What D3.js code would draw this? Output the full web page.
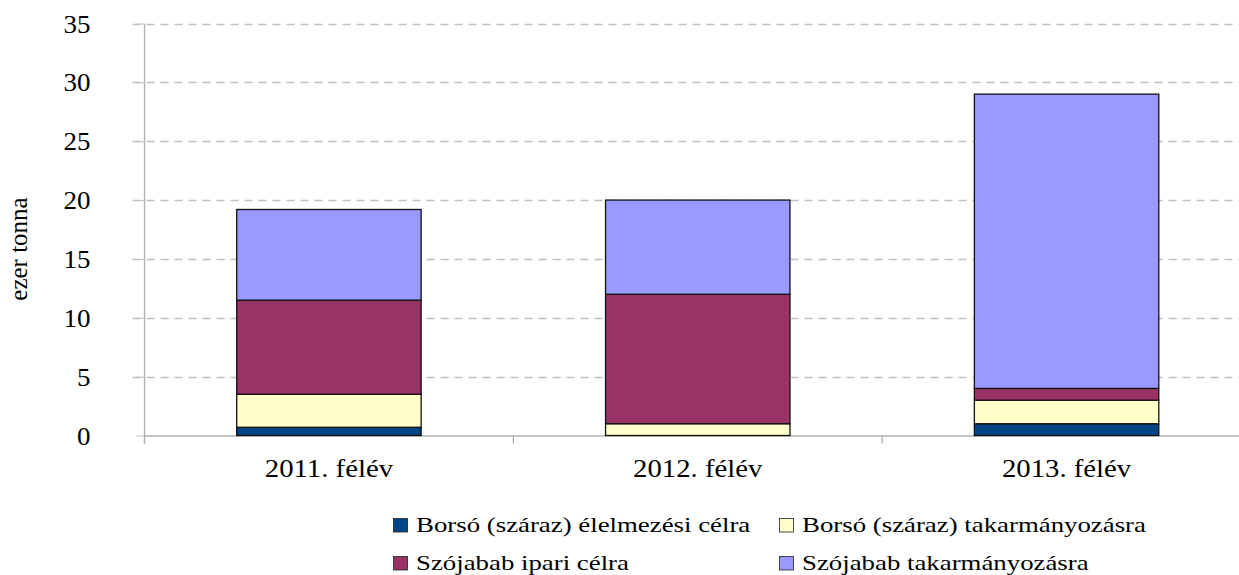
<!DOCTYPE html>
<html>
<head>
<meta charset="utf-8">
<script src="https://cdn.jsdelivr.net/npm/d3@7"></script>
<style>
body { margin: 0; background: #fff; }
</style>
</head>
<body>
<svg id="chart" width="1239" height="575"></svg>
<script>
/////// Data ///////

var categories = ["2011. félév", "2012. félév", "2013. félév"];
var seriesNames = ["Borsó (száraz) élelmezési célra", "Borsó (száraz) takarmányozásra",
                   "Szójabab ipari célra", "Szójabab takarmányozásra"];
var borsoElelmezes = [0.7, 0.0, 1.0];
var borsoTakarmany = [2.8, 1.0, 2.0];
var szojaIpari = [8.0, 11.0, 1.0];
var szojaTakarmany = [7.7, 8.0, 25.0];
var yTicks = [0, 5, 10, 15, 20, 25, 30, 35];
var colors = ["#004586", "#ffffcc", "#993366", "#9999ff"];

/////// Layout ///////

var serif = "Liberation Serif";
var svg = d3.select("#chart"),
margin = {top: 23.5, left: 144.5},
plotRight = 1251,
plotBottom = 435.5;

var rows = categories.map(function(c, i) {
    return {cat: c, s0: borsoElelmezes[i], s1: borsoTakarmany[i], s2: szojaIpari[i], s3: szojaTakarmany[i]};
});
var stack = d3.stack().keys(["s0", "s1", "s2", "s3"]);
var layers = stack(rows);

var x = d3.scaleBand().domain(categories).range([margin.left, plotRight]).paddingInner(0).paddingOuter(0);
var y = d3.scaleLinear().domain([0, 35]).range([plotBottom, margin.top]);

// grid lines
svg.append("g")
    .selectAll("line")
    .data(yTicks.filter(function(d) { return d > 0; }))
    .enter().append("line")
    .attr("x1", margin.left - 12)
    .attr("x2", 1239)
    .attr("y1", function(d) { return Math.round(y(d)) + 0.5; })
    .attr("y2", function(d) { return Math.round(y(d)) + 0.5; })
    .attr("stroke", "#c0c0c0")
    .attr("stroke-width", 1.3)
    .attr("stroke-dasharray", "8,6");

// y axis
var yAxis = d3.axisLeft(y).tickValues(yTicks).tickSize(12).tickPadding(12);
var gy = svg.append("g")
    .attr("transform", "translate(" + margin.left + ",0)")
    .call(yAxis);
gy.select(".domain").attr("stroke", "#b0b0b0").attr("stroke-width", 1.3)
    .attr("d", "M0," + margin.top + "V" + (plotBottom + 8));
gy.selectAll(".tick line").attr("stroke", "#c0c0c0").attr("stroke-dasharray", "8,6");
gy.selectAll(".tick text")
    .attr("x", 0)
    .attr("dy", "0.34em")
    .attr("transform", "translate(-54,0) scale(1.08,1)")
    .style("font-family", serif)
    .style("font-size", "25px")
    .style("fill", "#000");

// x axis
var xAxis = d3.axisBottom(x).tickSize(0);
var gx = svg.append("g")
    .attr("transform", "translate(0," + plotBottom + ")")
    .call(xAxis);
gx.select(".domain").attr("stroke", "#b0b0b0").attr("stroke-width", 1.3);
gx.selectAll(".tick text")
    .attr("y", 0)
    .attr("dy", 0)
    .attr("transform", "translate(0,41) scale(1.15,1)")
    .style("font-family", serif)
    .style("font-size", "25px")
    .style("fill", "#000");
gx.append("g").selectAll("line")
    .data(categories)
    .enter().append("line")
    .attr("x1", function(d) { return x(d); })
    .attr("x2", function(d) { return x(d); })
    .attr("y1", 0).attr("y2", 8)
    .attr("stroke", "#b0b0b0").attr("stroke-width", 1.3);

// y title
svg.append("text")
    .attr("transform", "translate(27,249) rotate(-90)")
    .attr("text-anchor", "middle")
    .style("font-family", serif)
    .style("font-size", "25px")
    .text("ezer tonna");

// bars
var barW = x.bandwidth() * 0.5;
svg.append("g")
    .selectAll("g")
    .data(layers)
    .enter().append("g")
    .attr("fill", function(d, i) { return colors[i]; })
    .selectAll("rect")
    .data(function(d) { return d.filter(function(p) { return p[1] - p[0] > 0; }); })
    .enter().append("rect")
    .attr("x", function(d) { return x(d.data.cat) + (x.bandwidth() - barW) / 2; })
    .attr("y", function(d) { return y(d[1]); })
    .attr("width", barW)
    .attr("height", function(d) { return y(d[0]) - y(d[1]); })
    .attr("stroke", "#111")
    .attr("stroke-width", 1.3);

// legend
var legPos = [[393, 532], [779, 532], [393, 570], [779, 570]];
var leg = svg.append("g")
    .selectAll("g")
    .data(seriesNames)
    .enter().append("g")
    .attr("transform", function(d, i) { return "translate(" + legPos[i][0] + "," + legPos[i][1] + ")"; });
leg.append("rect")
    .attr("x", 0.5).attr("y", -13.5)
    .attr("width", 14).attr("height", 13.5)
    .attr("fill", function(d, i) { return colors[i]; })
    .attr("stroke", "#222").attr("stroke-width", 0.8);
leg.append("text")
    .attr("transform", "translate(23,0) scale(1.22,1)")
    .style("font-family", serif)
    .style("font-size", "22px")
    .style("fill", "#000")
    .text(function(d) { return d; });
</script>
</body>
</html>
